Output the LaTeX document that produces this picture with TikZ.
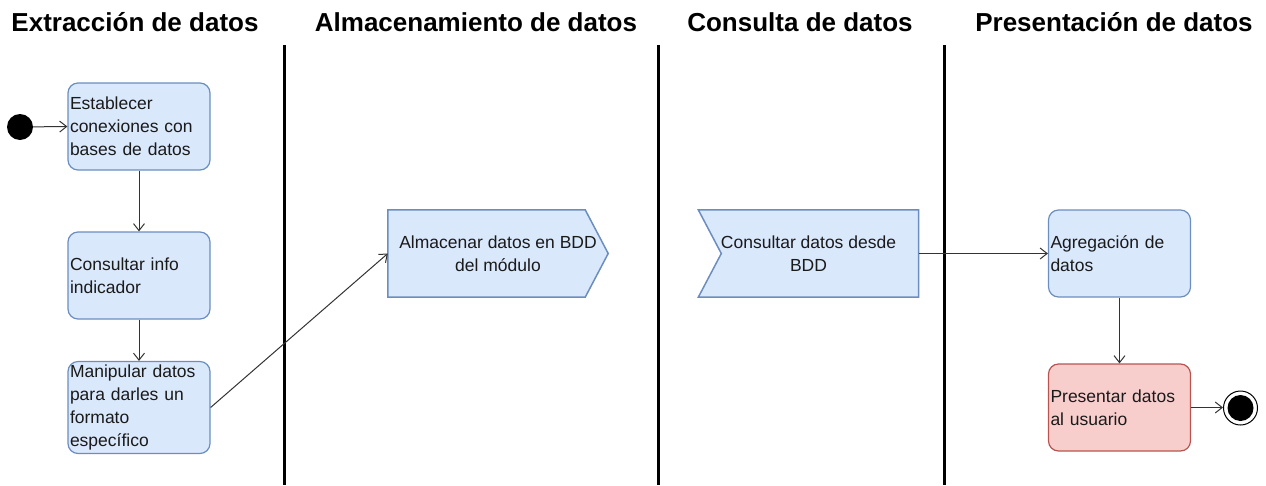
\documentclass[tikz,border=0pt]{standalone}
\usepackage{fontspec}
\setmainfont{Liberation Sans}
\usetikzlibrary{arrows.meta,calc}
\definecolor{bfill}{HTML}{DAE8FC}
\definecolor{bstroke}{HTML}{6C8EBF}
\definecolor{rfill}{HTML}{F8CECC}
\definecolor{rstroke}{HTML}{B85450}
\definecolor{txt}{HTML}{1A1A1A}
\begin{document}
\begin{tikzpicture}[x=1pt,y=-1pt,
  act/.style={draw=bstroke,fill=bfill,rounded corners=10pt,line width=1.2pt,
    minimum width=142pt,minimum height=87pt,text width=138pt,inner xsep=2pt,
    align=left,text=txt,font=\fontsize{17.5}{23}\selectfont},
  redact/.style={act,draw=rstroke,fill=rfill},
  sig/.style={minimum width=220pt,minimum height=87pt,inner sep=0pt,
    align=center,text=txt,font=\fontsize{17.5}{23}\selectfont},
  sigshape/.style={draw=bstroke,fill=bfill,line width=1.5pt},
  title/.style={font=\bfseries\fontsize{26}{30}\selectfont,inner sep=0pt},
  lane/.style={line width=3pt},
  conn/.style={draw=black!80,line width=1pt,-{Straight Barb[length=7pt,width=11pt]}}]
\useasboundingbox (0,0) rectangle (1266,485);
% titles
\node[title] (t1) at (135,22) {Extracción de datos};
\node[title] (t2) at (476,22) {Almacenamiento de datos};
\node[title] (t3) at (800,22) {Consulta de datos};
\node[title] (t4) at (1114,22) {Presentación de datos};
% lanes
\draw[lane] (284,45) -- (284,485);
\draw[lane] (658,45) -- (658,485);
\draw[lane] (944,45) -- (944,485);
% start
\node[circle,fill=black,minimum size=26pt,inner sep=0pt] (start) at (20,127) {};
% activities
\node[act] (b1) at (139,126.5) {Establecer\\conexiones con\\bases de datos};
\node[act] (b2) at (139,275.5) {Consultar info\\indicador};
\node[act] (b3) at (139,407.5) {Manipular datos\\para darles un\\formato\\específico};
\node[sig] (alm) at (498,253.5) {Almacenar datos en BDD\\del módulo};
\draw[sigshape]
  (alm.north west) -- ($(alm.north east)+(-23,0)$) -- (alm.east)
  -- ($(alm.south east)+(-23,0)$) -- (alm.south west) -- cycle;
\node[sig] at (alm) {Almacenar datos en BDD\\del módulo};
\node[sig] (cons) at (808.5,253.5) {Consultar datos desde\\BDD};
\draw[sigshape]
  (cons.north west) -- (cons.north east) -- (cons.south east)
  -- (cons.south west) -- ($(cons.west)+(23,0)$) -- cycle;
\node[sig] at (cons) {Consultar datos desde\\BDD};
\node[act] (agr) at (1119.5,253.5) {Agregación de\\datos};
\node[redact] (pres) at (1119.5,407.5) {Presentar datos\\al usuario};
% end
\node[circle,draw=black,line width=1pt,fill=white,minimum size=34pt,inner sep=0pt] (end) at (1240.5,408) {};
\fill[black] (end.center) circle (13pt);
% connectors
\draw[conn] (start) -- (b1.west);
\draw[conn] (b1) -- (b2);
\draw[conn] (b2) -- (b3);
\draw[conn] (b3.east) -- (alm.west);
\draw[conn] (cons.east) -- (agr.west);
\draw[conn] (agr) -- (pres);
\draw[conn] (pres.east) -- (pres.east -| end.west);
\end{tikzpicture}
\end{document}
